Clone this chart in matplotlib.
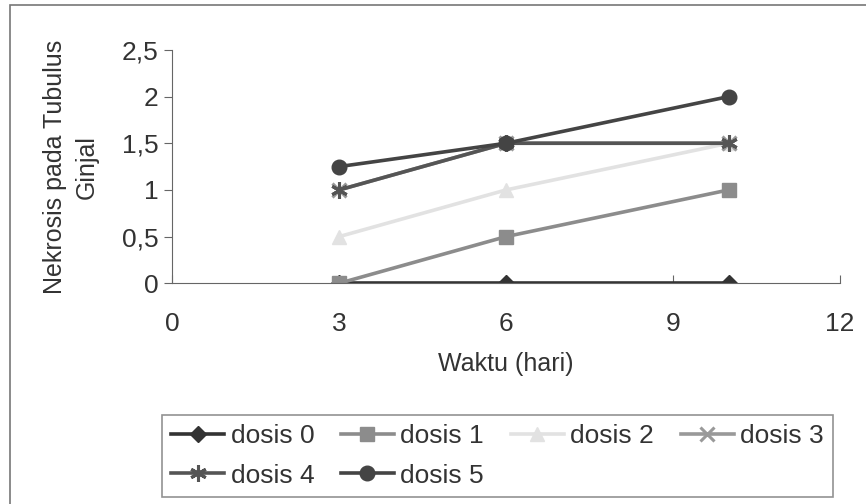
import matplotlib.pyplot as plt
from matplotlib.patches import Rectangle

# data
waktu = [3, 6, 10]
dosis_0 = [0, 0, 0]
dosis_1 = [0, 0.5, 1]
dosis_2 = [0.5, 1, 1.5]
dosis_3 = [1, 1.5, 1.5]
dosis_4 = [1, 1.5, 1.5]
dosis_5 = [1.25, 1.5, 2]

x_ticks = [0, 3, 6, 9, 12]
y_ticks = [0, 0.5, 1, 1.5, 2, 2.5]
y_tick_labels = ['0', '0,5', '1', '1,5', '2', '2,5']

plt.rcParams['font.family'] = ['Liberation Sans', 'DejaVu Sans']

fig = plt.figure(figsize=(8.66, 5.04), dpi=100)
ax = fig.add_axes([0.199, 0.438, 0.771, 0.463])

# outer chart border (only left/top edges visible in scan)
fig.patches.append(Rectangle((0.012, -0.05), 1.1, 1.04, transform=fig.transFigure,
                             fill=False, edgecolor='#777777', linewidth=1.2))

lw = 2.6
h0, = ax.plot(waktu, dosis_0, color='#333333', lw=lw, marker='D', ms=8, label='dosis 0')
h1, = ax.plot(waktu, dosis_1, color='#8c8c8c', lw=lw, marker='s', ms=10, label='dosis 1')
h2, = ax.plot(waktu, dosis_2, color='#e2e2e2', lw=lw, marker='^', ms=10, label='dosis 2')
h3, = ax.plot(waktu, dosis_3, color='#999999', lw=lw, marker='x', ms=10, mew=2.2, label='dosis 3')
h4, = ax.plot(waktu, dosis_4, color='#555555', lw=lw, marker=(6, 2, 0), ms=12, mew=2.2, label='dosis 4')
h5, = ax.plot(waktu, dosis_5, color='#444444', lw=lw, marker='o', ms=10.5, label='dosis 5')

ax.set_xlim(0, 12)
ax.set_ylim(0, 2.5)
ax.set_xticks(x_ticks)
ax.set_yticks(y_ticks)
ax.set_yticklabels(y_tick_labels)
ax.tick_params(axis='x', direction='in', length=6, labelsize=19, pad=21, color='#666666', labelcolor='#333333')
ax.tick_params(axis='y', direction='out', length=6, labelsize=19, pad=4, color='#666666', labelcolor='#333333')
ax.spines['top'].set_visible(False)
ax.spines['right'].set_visible(False)
ax.spines['left'].set_color('#666666')
ax.spines['bottom'].set_color('#666666')

ax.set_xlabel('Waktu (hari)', fontsize=18, color='#333333', labelpad=11)
ax.set_ylabel('Nekrosis pada Tubulus\nGinjal', fontsize=18, color='#333333', linespacing=1.4)
ax.yaxis.set_label_coords(-0.11, 0.5)

# reorder so the column-filled legend reads row by row
handles = [h0, h4, h1, h5, h2, h3]
leg = fig.legend(handles, [h.get_label() for h in handles], ncol=4,
                 loc='lower left', bbox_to_anchor=(0.187, 0.014, 0.775, 0.171),
                 mode='expand', fontsize=19, frameon=True, fancybox=False,
                 edgecolor='#777777', handlelength=2.0, handletextpad=0.25,
                 columnspacing=0.4, borderaxespad=0, borderpad=0.35, labelspacing=0.6)
leg.get_frame().set_linewidth(1.2)
for t in leg.get_texts():
    t.set_color('#333333')

fig.savefig('out.png', dpi=100)
